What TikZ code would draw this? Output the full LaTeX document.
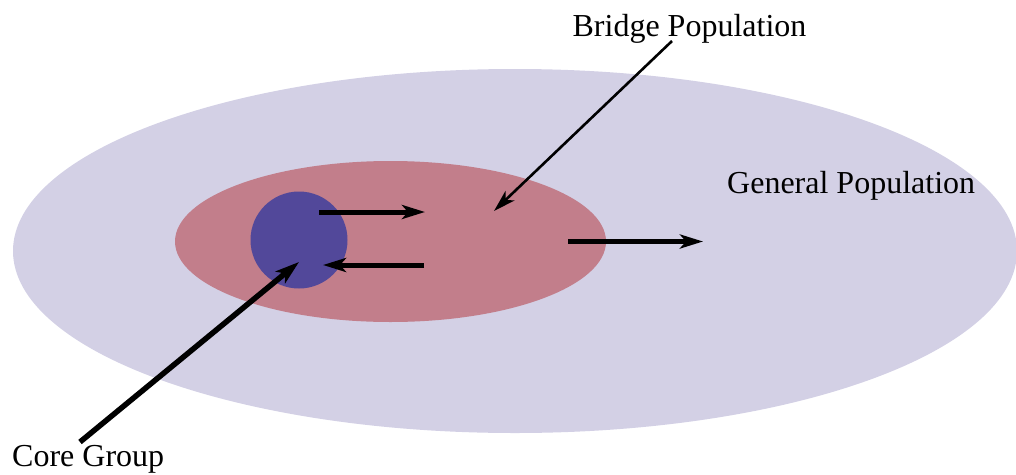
\documentclass[tikz,border=0pt]{standalone}
\usepackage{fontspec}
\newfontfamily\lblfont{LiberationSerif-Regular.ttf}
\usetikzlibrary{arrows.meta}
\usetikzlibrary{shapes.geometric}
\definecolor{genpop}{HTML}{D3D0E5}
\definecolor{bridgepop}{HTML}{C27E8B}
\definecolor{coregrp}{HTML}{52489A}
\tikzset{
  blob/.style={ellipse, inner sep=0pt, draw=none},
  lbl/.style={font=\lblfont\fontsize{32}{36}\selectfont, inner sep=0pt, text=black},
  flow/.style={line width=5pt, -{Stealth[length=23pt, width=14pt, inset=6pt]}},
  pointer/.style={line width=2.6pt, -{Stealth[length=22pt, width=13pt, inset=6pt]}},
  corepointer/.style={line width=5.5pt, -{Stealth[length=24pt, width=15pt, inset=6pt]}},
}
\begin{document}
\begin{tikzpicture}[x=1pt,y=-1pt]
\useasboundingbox (0,0) rectangle (1016,474);
\node[blob, fill=genpop, minimum width=1004pt, minimum height=364pt] (gen) at (515,251) {};
\node[blob, fill=bridgepop, minimum width=431pt, minimum height=161pt] (bridge) at (390.5,241.5) {};
\node[circle, inner sep=0pt, fill=coregrp, minimum size=97pt] (core) at (299,240) {};
\node[lbl, anchor=base] (tbridge) at (689.5,36) {Bridge Population};
\node[lbl, anchor=base west] (tgen) at (727,193) {General Population};
\node[lbl, anchor=base west] (tcore) at (12,466) {Core Group};
\coordinate (a1s) at (319,212); \coordinate (a1e) at (425,212);
\coordinate (a2s) at (424,265); \coordinate (a2e) at (323,265);
\coordinate (a3s) at (568,241.5); \coordinate (a3e) at (703,241.5);
\coordinate (bs) at (672,41); \coordinate (be) at (494,211);
\coordinate (cs) at (80,442); \coordinate (ce) at (299,262);
\draw[flow] (a1s) -- (a1e);
\draw[flow] (a2s) -- (a2e);
\draw[flow] (a3s) -- (a3e);
\draw[pointer, line cap=butt] (bs) -- (be);
\draw[corepointer] (cs) -- (ce);
\end{tikzpicture}
\end{document}
